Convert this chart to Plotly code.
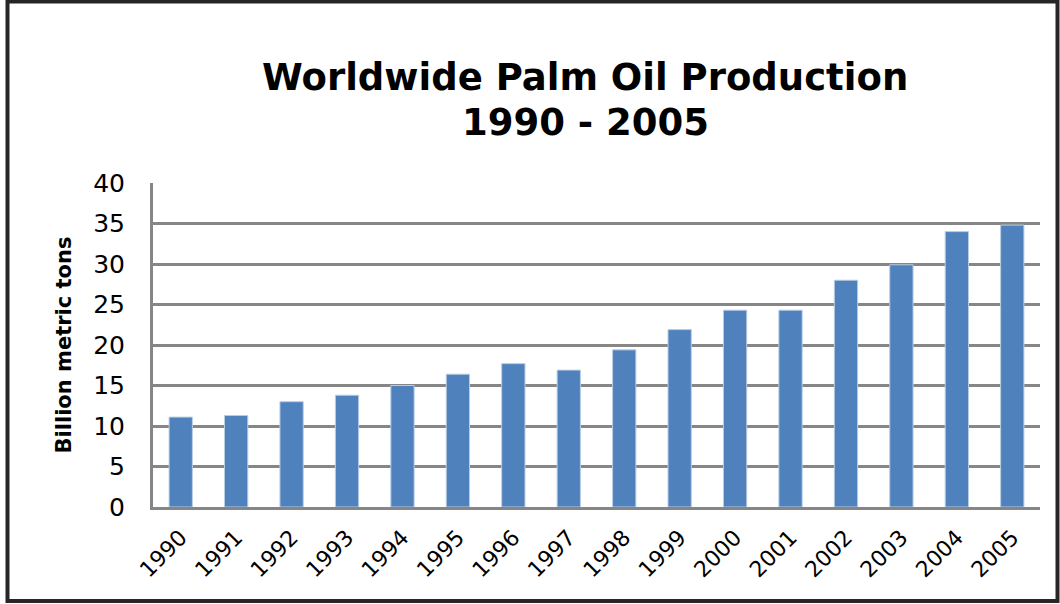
import plotly.graph_objects as go

years = ["1990", "1991", "1992", "1993", "1994", "1995", "1996", "1997",
         "1998", "1999", "2000", "2001", "2002", "2003", "2004", "2005"]
production = [11.1, 11.3, 13.0, 13.8, 15.0, 16.4, 17.7, 16.9,
              19.4, 21.9, 24.3, 24.3, 28.0, 29.9, 34.0, 34.8]
y_ticks = [0, 5, 10, 15, 20, 25, 30, 35, 40]
title_lines = ["Worldwide Palm Oil Production", "1990 - 2005"]

W, H = 1060, 604
ML, MR, MT, MB = 153, 20, 183, 97
pw, ph = W - ML - MR, H - MT - MB


def px_x(x):
    return (x - ML) / pw


def px_y(y):
    return (H - MB - y) / ph


fig = go.Figure(go.Bar(
    x=years, y=production,
    marker=dict(color="#4F81BD", line=dict(color="#B9CDE5", width=1)),
))

annotations = [
    dict(text="<b>%s</b>" % t, xref="paper", yref="paper",
         x=px_x(585), y=px_y(yc), xanchor="center", yanchor="middle",
         showarrow=False,
         font=dict(family="DejaVu Sans", size=37, color="black"))
    for t, yc in zip(title_lines, [77, 122])
]

fig.update_layout(
    width=W, height=H,
    margin=dict(l=ML, r=MR, t=MT, b=MB),
    paper_bgcolor="white", plot_bgcolor="white",
    bargap=0.58,
    showlegend=False,
    font=dict(family="DejaVu Sans", color="black"),
    annotations=annotations,
    xaxis=dict(
        type="category", tickangle=-45,
        tickfont=dict(size=22, family="DejaVu Sans"),
        showgrid=False, showline=True, linecolor="#868686", linewidth=3,
        ticks="outside", ticklen=6, tickcolor="rgba(0,0,0,0)",
    ),
    yaxis=dict(
        range=[0, 40], tickvals=y_ticks,
        tickfont=dict(size=25, family="DejaVu Sans"),
        showgrid=True, gridcolor="#868686", gridwidth=3,
        showline=True, linecolor="#868686", linewidth=3,
        zeroline=False,
        ticks="outside", ticklen=20, tickcolor="rgba(0,0,0,0)",
        title=dict(text="<b>Billion metric tons</b>",
                   font=dict(size=21, family="DejaVu Sans"), standoff=16),
    ),
    shapes=[dict(
        type="rect", xref="paper", yref="paper",
        x0=px_x(7.5), x1=px_x(1057.5),
        y0=px_y(601), y1=px_y(1.5),
        line=dict(color="#262626", width=4), fillcolor="rgba(0,0,0,0)",
        layer="below",
    )],
)

fig.write_html(
    "out.html",
    config={"displayModeBar": False},
    post_script="document.body.style.margin='0px';document.body.style.overflow='hidden';",
)
